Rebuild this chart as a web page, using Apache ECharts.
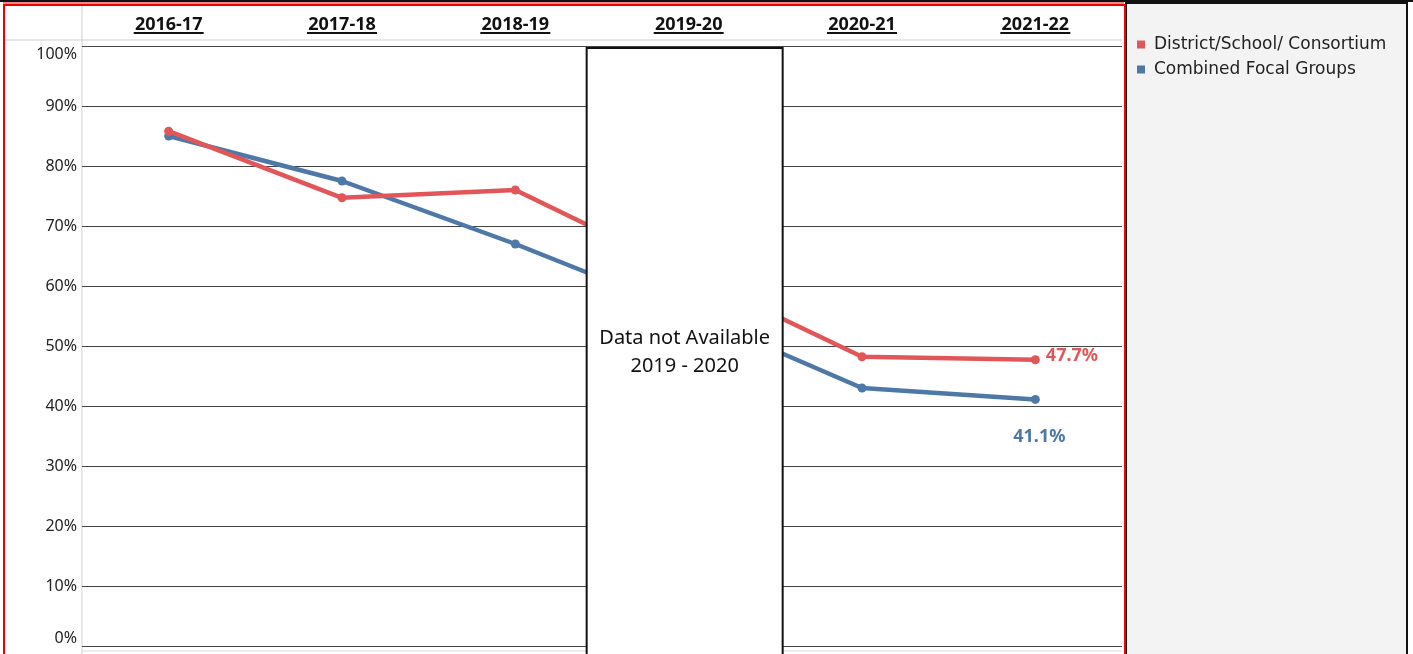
<!DOCTYPE html>
<html>
<head>
<meta charset="utf-8">
<script src="https://cdn.jsdelivr.net/npm/echarts@6/dist/echarts.min.js"></script>
<style>
html,body{margin:0;padding:0;background:#fff;}
#c{width:1413px;height:654px;}
</style>
</head>
<body>
<div id="c"></div>
<script>
const categories = ['2016-17', '2017-18', '2018-19', '2019-20', '2020-21', '2021-22'];
const districtValues = [85.8, 74.7, 76.0, 62.0, 48.2, 47.7];
const focalValues = [85.0, 77.5, 67.0, 55.5, 43.0, 41.1];
const seriesNames = ['District/School/ Consortium', 'Combined Focal Groups'];
const yTicks = [0, 10, 20, 30, 40, 50, 60, 70, 80, 90, 100];
const missingCategory = '2019-20';
const missingText = 'Data not Available\n2019 - 2020';

const RED = '#e15759', BLUE = '#4e79a7';
const FONT = '"Noto Sans", sans-serif';
const chart = echarts.init(document.getElementById('c'));

function lastLabel(color, position, distance, offset) {
  return {
    show: true,
    position: position,
    distance: distance,
    offset: offset,
    color: color,
    fontFamily: FONT,
    fontSize: 18,
    fontWeight: 'bold',
    formatter: p => p.dataIndex === categories.length - 1 ? p.value.toFixed(1) + '%' : ''
  };
}

chart.setOption({
  animation: false,
  textStyle: { fontFamily: FONT },
  grid: { left: 82, right: 291, top: 46, bottom: 8 },
  legend: {
    orient: 'vertical',
    left: 1137, top: 36, padding: 0,
    icon: 'rect', itemWidth: 8, itemHeight: 8, itemGap: 8,
    textStyle: { fontFamily: '"DejaVu Sans", sans-serif', fontSize: 17, color: '#222', padding: [0, 0, 0, 4] },
    data: seriesNames
  },
  xAxis: {
    type: 'category',
    position: 'top',
    data: categories,
    axisLine: { show: false },
    axisTick: { show: false },
    splitLine: { show: false },
    axisLabel: {
      margin: 12,
      formatter: v => '{t|' + v + '}\n{u|}',
      rich: {
        t: { fontFamily: FONT, fontSize: 18, fontWeight: 'bold', color: '#111', lineHeight: 15, align: 'center' },
        u: { width: 70, height: 2, lineHeight: 2, backgroundColor: '#111', align: 'center' }
      }
    }
  },
  yAxis: {
    type: 'value',
    min: yTicks[0], max: yTicks[yTicks.length - 1], interval: 10,
    axisLine: { show: false },
    axisTick: { show: false },
    axisLabel: {
      margin: 5, color: '#222', fontSize: 16, fontFamily: FONT, formatter: '{value}%',
      verticalAlignMaxLabel: 'top', verticalAlignMinLabel: 'bottom'
    },
    splitLine: { lineStyle: { color: '#444', width: 1 } }
  },
  series: [
    {
      name: seriesNames[0], type: 'line', data: districtValues,
      color: RED, symbol: 'circle', symbolSize: 9,
      lineStyle: { width: 4.5, color: RED }, itemStyle: { color: RED },
      label: lastLabel(RED, 'right', 6, [0, -4]), z: 3
    },
    {
      name: seriesNames[1], type: 'line', data: focalValues,
      color: BLUE, symbol: 'circle', symbolSize: 9,
      lineStyle: { width: 4.5, color: BLUE }, itemStyle: { color: BLUE },
      label: lastLabel(BLUE, 'bottom', 24, [4, 0]), z: 2
    }
  ]
});

// Decorations and the "data not available" box, placed through the axes
const cx = chart.convertToPixel({ xAxisIndex: 0 }, missingCategory);
const yTop = chart.convertToPixel({ yAxisIndex: 0 }, yTicks[yTicks.length - 1]);
const yZero = chart.convertToPixel({ yAxisIndex: 0 }, 0);
const plotLeft = chart.convertToPixel({ xAxisIndex: 0 }, categories[0]) - 86.7;
const plotRight = chart.convertToPixel({ xAxisIndex: 0 }, categories[categories.length - 1]) + 86.7;
const H = 654;
const boxW = 196;
const boxL = cx - 4 - boxW / 2;

chart.setOption({
  graphic: [
    { type: 'rect', z: -10, shape: { x: 1126, y: 3, width: 281, height: H }, style: { fill: '#f3f3f3', stroke: '#111', lineWidth: 2 } },
    { type: 'rect', z: -5, shape: { x: 0, y: 0, width: 1413, height: 2 }, style: { fill: '#111' } },
    { type: 'rect', z: -5, shape: { x: 3, y: 2, width: plotRight - 1, height: 2 }, style: { fill: '#e88a8a' } },
    { type: 'line', z: -5, shape: { x1: 4, y1: yTop - 6, x2: plotRight, y2: yTop - 6 }, style: { stroke: '#cfcfcf', lineWidth: 1 } },
    { type: 'line', z: -5, shape: { x1: plotLeft, y1: 5, x2: plotLeft, y2: H }, style: { stroke: '#cfcfcf', lineWidth: 1 } },
    { type: 'line', z: -5, shape: { x1: plotLeft, y1: yZero + 5, x2: plotRight, y2: yZero + 5 }, style: { stroke: '#dcdcdc', lineWidth: 1 } },
    { type: 'rect', z: 50, shape: { x: 4, y: 5, width: plotRight - 1, height: H }, style: { fill: 'none', stroke: '#ee0000', lineWidth: 2 } },
    { type: 'rect', z: 100, shape: { x: boxL, y: yTop + 2, width: boxW, height: H }, style: { fill: '#fff', stroke: '#111', lineWidth: 2 } },
    { type: 'text', z: 101, x: boxL + boxW / 2, y: (yTop + 2 + H) / 2 + 1,
      style: { text: missingText, fontFamily: FONT, fontSize: 20, lineHeight: 28, fill: '#111', align: 'center', verticalAlign: 'middle' } }
  ]
});
</script>
</body>
</html>
